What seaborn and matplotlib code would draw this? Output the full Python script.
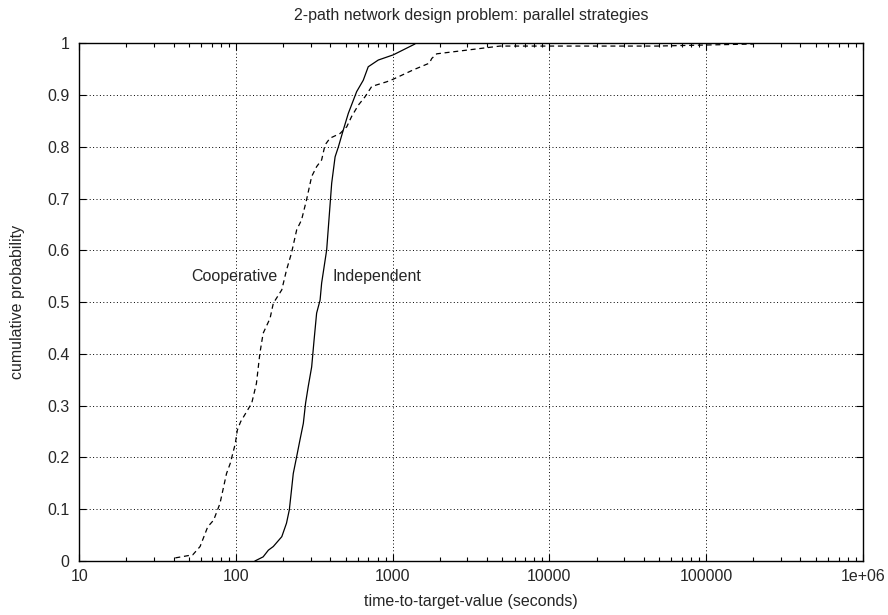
import numpy as np
import pandas as pd
import matplotlib
matplotlib.use("Agg")
import matplotlib.pyplot as plt
import seaborn as sns
from matplotlib.ticker import LogLocator, FixedLocator, NullFormatter

# values
coop_time = [41, 53, 59, 66, 72, 79, 87, 92, 99, 102, 107, 126, 135, 142, 149, 165, 173,
             196, 210, 226, 244, 262, 282, 304, 327, 352, 370, 398, 461, 509, 547, 604,
             666, 735, 916, 1008, 1353, 1714, 1775, 1910, 2158, 4842, 48400, 200000]
coop_prob = [0.006, 0.012, 0.028, 0.066, 0.079, 0.111, 0.169, 0.189, 0.227, 0.253, 0.269,
             0.305, 0.343, 0.401, 0.440, 0.469, 0.498, 0.524, 0.562, 0.595, 0.640, 0.659,
             0.698, 0.743, 0.762, 0.775, 0.804, 0.817, 0.826, 0.839, 0.859, 0.881, 0.897,
             0.917, 0.926, 0.931, 0.949, 0.962, 0.971, 0.980, 0.982, 0.995, 0.995, 0.999]

indep_time = [132, 149, 161, 173, 196, 210, 219, 226, 232, 244, 256, 269, 278, 289, 304,
              315, 327, 344, 352, 379, 408, 429, 450, 484, 521, 589, 649, 698, 809, 1008, 1387]
indep_prob = [0.0, 0.008, 0.021, 0.028, 0.047, 0.073, 0.099, 0.137, 0.169, 0.202, 0.234,
              0.266, 0.305, 0.337, 0.375, 0.427, 0.479, 0.504, 0.537, 0.601, 0.730, 0.781,
              0.800, 0.833, 0.865, 0.907, 0.929, 0.955, 0.968, 0.978, 0.999]

x_ticks = [10, 100, 1000, 10000, 100000, 1000000]
x_tick_labels = ["10", "100", "1000", "10000", "100000", "1e+06"]
y_ticks = [0, 0.1, 0.2, 0.3, 0.4, 0.5, 0.6, 0.7, 0.8, 0.9, 1]
y_tick_labels = ["0", "0.1", "0.2", "0.3", "0.4", "0.5", "0.6", "0.7", "0.8", "0.9", "1"]

sns.set_style("ticks")
plt.rcParams['font.family'] = ['Liberation Sans', 'DejaVu Sans']
FS = 11.5

fig = plt.figure(figsize=(8.88, 6.15), dpi=100)
ax = fig.add_axes([0.0893, 0.0878, 0.9716 - 0.0893, 0.9293 - 0.0878])

coop = pd.DataFrame({"time": coop_time, "prob": coop_prob})
indep = pd.DataFrame({"time": indep_time, "prob": indep_prob})

sns.lineplot(data=coop, x="time", y="prob", ax=ax, color="black", lw=0.9,
             sort=False, estimator=None, linestyle=(0, (4, 3)))
sns.lineplot(data=indep, x="time", y="prob", ax=ax, color="black", lw=0.9,
             sort=False, estimator=None)

ax.set_xscale("log")
ax.set_xlim(10, 1e6)
ax.set_ylim(0, 1)

ax.xaxis.set_major_locator(FixedLocator(x_ticks))
ax.set_xticklabels(x_tick_labels)
ax.xaxis.set_minor_locator(LogLocator(base=10, subs=np.arange(2, 10)))
ax.xaxis.set_minor_formatter(NullFormatter())
ax.set_yticks(y_ticks)
ax.set_yticklabels(y_tick_labels)

ax.tick_params(which="both", direction="in", top=True, right=True, labelsize=FS,
               color="black", width=0.8)
ax.tick_params(which="major", length=5)
ax.tick_params(axis="y", which="major", pad=7)
ax.tick_params(axis="x", which="major", pad=6)
ax.tick_params(which="minor", length=3)

ax.grid(True, which="major", color="black", lw=0.7, linestyle=(0, (1, 2.5)))
for s in ax.spines.values():
    s.set_linewidth(1.0)
    s.set_color("black")

ax.text(185, 0.549, "Cooperative", ha="right", va="center", fontsize=FS)
ax.text(415, 0.549, "Independent", ha="left", va="center", fontsize=FS)

ax.set_title("2-path network design problem: parallel strategies", fontsize=FS, pad=17)
ax.set_xlabel("time-to-target-value (seconds)", fontsize=FS, labelpad=7)
ax.set_ylabel("cumulative probability", fontsize=FS)
ax.yaxis.set_label_coords(-0.069, 0.5)

fig.savefig("out.png", dpi=100)
